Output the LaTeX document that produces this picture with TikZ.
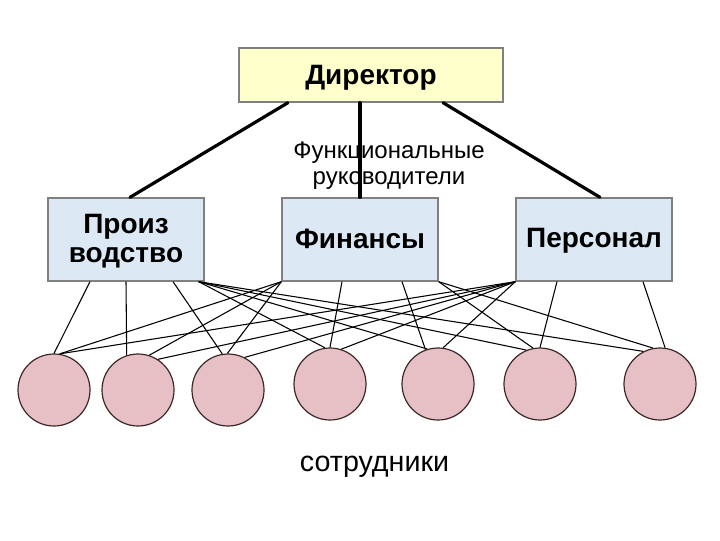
\documentclass[tikz,border=0pt]{standalone}
\usepackage{fontspec}
\setmainfont{Liberation Sans}
\definecolor{boxfill}{RGB}{221,232,245}
\definecolor{boxdraw}{RGB}{128,128,128}
\definecolor{dirfill}{RGB}{255,255,204}
\definecolor{circfill}{RGB}{230,192,196}
\definecolor{circdraw}{RGB}{60,40,40}
\newcommand{\boxstrut}{\rule[-4.2pt]{0pt}{21.2pt}}
\newcommand{\bossstrut}{\rule[-3pt]{0pt}{21pt}}
\begin{document}
\begin{tikzpicture}[x=0.75pt,y=-0.75pt,
  dept/.style={draw=boxdraw,fill=boxfill,line width=1pt,minimum width=117pt,minimum height=62.25pt,inner sep=0pt,
    font=\fontsize{21}{21.75}\selectfont\bfseries,align=center},
  boss/.style={draw=boxdraw,fill=dirfill,line width=1pt,minimum width=198pt,minimum height=40.5pt,inner sep=0pt,
    font=\fontsize{21}{22}\selectfont\bfseries},
  worker/.style={circle,draw=circdraw,fill=circfill,line width=0.9pt,minimum size=54pt,inner sep=0pt},
  thick link/.style={line width=2.4pt,line cap=round},
  thin link/.style={line width=0.8pt}]
\useasboundingbox (0,0) rectangle (720,540);
% boxes
\node[boss] (dir) at (371,75) {\bossstrut Директор};
\node[dept] (prod) at (126,239.5) {\boxstrut Произ\\\boxstrut водство};
\node[dept] (fin) at (360,239.5) {\boxstrut Финансы};
\node[dept] (pers) at (594,239.5) {\boxstrut Персонал};
% workers
\node[worker] (c1) at (54,390) {};
\node[worker] (c2) at (138,390) {};
\node[worker] (c3) at (228,390) {};
\node[worker] (c4) at (330,384) {};
\node[worker] (c5) at (438,384) {};
\node[worker] (c6) at (540,384) {};
\node[worker] (c7) at (660,384) {};
% labels
\node[font=\fontsize{18}{19.5}\selectfont,align=center,inner sep=0pt] (func) at (389,166) {Функциональные\strut\\руководители\strut};
\node[font=\fontsize{21.5}{24}\selectfont,inner sep=0pt] (staff) at (374.5,465) {сотрудники\strut};
% director links
\draw[thick link] ([xshift=-62.25pt]dir.south) -- ([xshift=3pt]prod.north);
\draw[thick link] ([xshift=-8.25pt]dir.south) -- (fin.north);
\draw[thick link] ([xshift=54pt]dir.south) -- ([xshift=4.5pt]pers.north);
% production links
\draw[thin link] ([xshift=-27pt]prod.south) -- (c1.north);
\draw[thin link] (prod.south) -- (c2.108);
\draw[thin link] ([xshift=35.25pt]prod.south) -- (c3.99);
\draw[thin link] ([xshift=-4.5pt]prod.south east) -- (c4.98);
\draw[thin link] ([xshift=-4.5pt]prod.south east) -- (c5.107);
\draw[thin link] ([xshift=-4.5pt]prod.south east) -- (c6.112);
\draw[thin link] ([xshift=-4.5pt]prod.south east) -- (c7.117);
% finance links
\draw[thin link] (fin.south west) -- (c1.81);
\draw[thin link] (fin.south west) -- (c2.72);
\draw[thin link] (fin.south west) -- (c3.91);
\draw[thin link] ([xshift=-13.5pt]fin.south) -- (c4.north);
\draw[thin link] ([xshift=31.5pt]fin.south) -- (c5.110);
\draw[thin link] (fin.south east) -- (c6.101);
\draw[thin link] (fin.south east) -- (c7.101);
% personnel links
\draw[thin link] (pers.south west) -- (c1.81);
\draw[thin link] (pers.south west) -- (c2.57);
\draw[thin link] (pers.south west) -- (c3.63);
\draw[thin link] (pers.south west) -- (c4.72);
\draw[thin link] (pers.south west) -- (c5.82);
\draw[thin link] ([xshift=-27.75pt]pers.south) -- (c6.north);
\draw[thin link] ([xshift=36.75pt]pers.south) -- (c7.82);
\end{tikzpicture}
\end{document}
